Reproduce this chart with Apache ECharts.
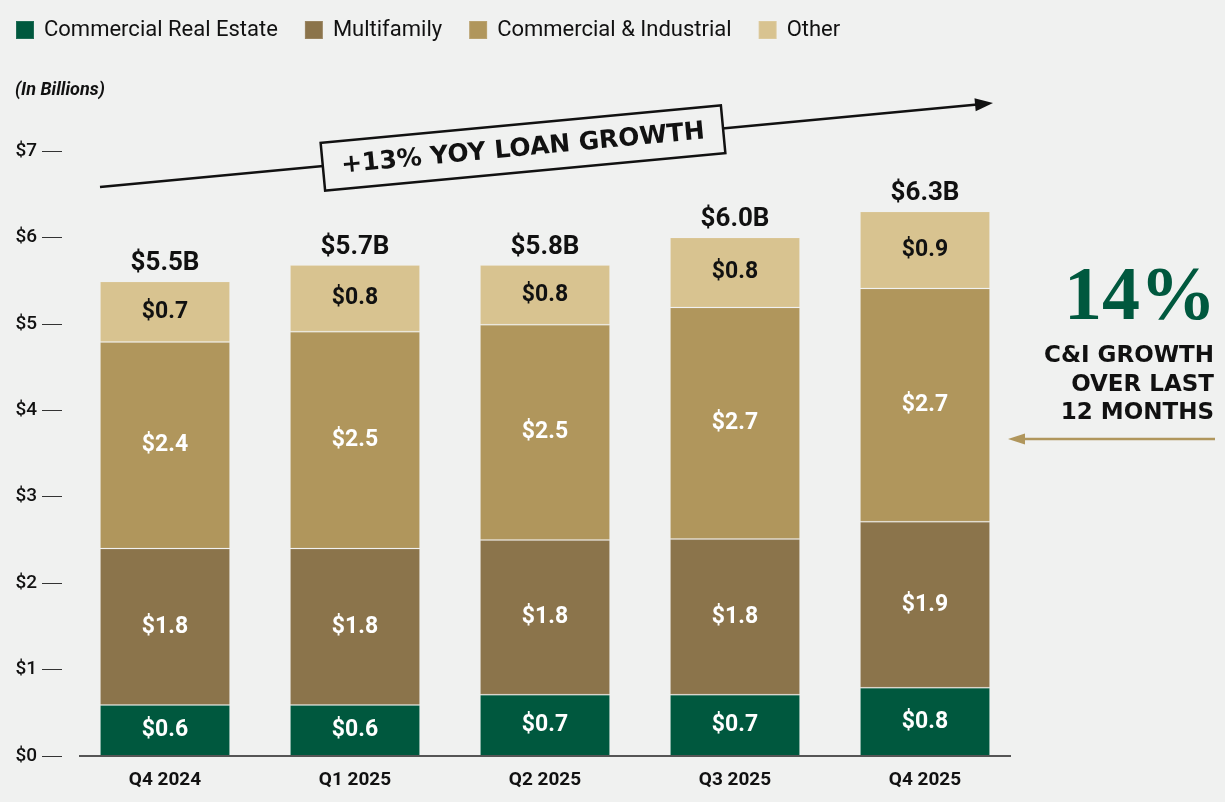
<!DOCTYPE html>
<html>
<head>
<meta charset="UTF-8">
<script src="https://cdn.jsdelivr.net/npm/echarts@6/dist/echarts.min.js"></script>
<style>
  html, body { margin: 0; padding: 0; background: #f0f1f0; }
  #main { width: 1225px; height: 802px; }
</style>
</head>
<body>
<div id="main"></div>
<script>
// quarters
var quarters = ['Q4 2024', 'Q1 2025', 'Q2 2025', 'Q3 2025', 'Q4 2025'];
// segment heights (billions)
var creVals   = [0.59, 0.59, 0.71, 0.71, 0.79];
var multiVals = [1.81, 1.81, 1.79, 1.80, 1.92];
var ciVals    = [2.39, 2.51, 2.49, 2.68, 2.70];
var otherVals = [0.70, 0.77, 0.69, 0.81, 0.89];
// printed labels
var creLabels   = ['$0.6', '$0.6', '$0.7', '$0.7', '$0.8'];
var multiLabels = ['$1.8', '$1.8', '$1.8', '$1.8', '$1.9'];
var ciLabels    = ['$2.4', '$2.5', '$2.5', '$2.7', '$2.7'];
var otherLabels = ['$0.7', '$0.8', '$0.8', '$0.8', '$0.9'];
var totalLabels = ['$5.5B', '$5.7B', '$5.8B', '$6.0B', '$6.3B'];
var yTicks = ['$0', '$1', '$2', '$3', '$4', '$5', '$6', '$7'];

var bg = '#f0f1f0';
var font = 'Roboto';

var myChart = echarts.init(document.getElementById('main'));

function segLabel(labels, color) {
    return {
        show: true,
        position: 'inside',
        color: color,
        fontFamily: font,
        fontWeight: 'bold',
        fontSize: 23,
        formatter: function (p) { return labels[p.dataIndex]; }
    };
}

function barSeries(name, vals, color, labels, txtColor) {
    return {
        name: name,
        type: 'bar',
        stack: 'loans',
        barWidth: 130,
        data: vals,
        itemStyle: { color: color, borderColor: 'rgba(255,255,255,0.12)', borderWidth: 1 },
        label: segLabel(labels, txtColor),
        emphasis: { disabled: true }
    };
}

// stack top for each quarter, used to anchor the total labels
var totals = quarters.map(function (q, i) {
    return creVals[i] + multiVals[i] + ciVals[i] + otherVals[i];
});

// arrow head helper
function head(tip, dx, dy, len, half) {
    var d = Math.sqrt(dx * dx + dy * dy);
    var ux = dx / d, uy = dy / d;
    var bx = tip[0] - ux * len, by = tip[1] - uy * len;
    return [tip, [bx - uy * half, by + ux * half], [bx + uy * half, by - ux * half]];
}

var boxAngle = Math.atan2(187 - 103, 993 - 100);

myChart.setOption({
    backgroundColor: bg,
    animation: false,
    textStyle: { fontFamily: font },
    legend: {
        left: 10,
        top: 14,
        itemWidth: 18,
        itemHeight: 18,
        itemGap: 26,
        icon: 'rect',
        selectedMode: false,
        textStyle: { fontSize: 22, color: '#111', fontFamily: font, padding: [0, 0, 0, 5] },
        data: ['Commercial Real Estate', 'Multifamily', 'Commercial & Industrial', 'Other']
    },
    grid: { left: 70, right: 205, top: 151, bottom: 46 },
    xAxis: {
        type: 'category',
        data: quarters,
        axisLine: { show: false },
        axisTick: { show: false },
        axisLabel: { color: '#111', fontSize: 19, fontWeight: 'bold', margin: 15, fontFamily: font }
    },
    yAxis: {
        type: 'value',
        min: 0,
        max: 7,
        interval: 1,
        offset: 8,
        splitLine: { show: false },
        axisLine: { show: false },
        axisTick: { show: true, length: 20, lineStyle: { color: '#333', width: 1 } },
        axisLabel: {
            color: '#111', fontSize: 19, fontWeight: 500, margin: 25, fontFamily: font,
            formatter: function (v) { return yTicks[v]; }
        }
    },
    series: [
        barSeries('Commercial Real Estate', creVals, '#00583e', creLabels, '#fff'),
        barSeries('Multifamily', multiVals, '#8b744b', multiLabels, '#fff'),
        barSeries('Commercial & Industrial', ciVals, '#b0965c', ciLabels, '#fff'),
        barSeries('Other', otherVals, '#d8c390', otherLabels, '#111'),
        {
            name: 'Total',
            type: 'scatter',
            symbolSize: 0,
            data: totals,
            silent: true,
            itemStyle: { color: '#111', opacity: 1 },
            label: {
                show: true,
                position: 'top',
                distance: 5,
                color: '#111',
                fontFamily: font,
                fontWeight: 'bold',
                fontSize: 26,
                formatter: function (p) { return totalLabels[p.dataIndex]; }
            }
        }
    ],
    graphic: [
        // x axis baseline
        { type: 'line', shape: { x1: 79, y1: 756, x2: 1011, y2: 756 }, style: { stroke: '#555', lineWidth: 2 }, z: 10 },
        // units note
        { type: 'text', left: 15, top: 81, style: { text: '(In Billions)', font: 'italic bold 18px Roboto', fill: '#111' } },
        // growth arrow
        { type: 'line', shape: { x1: 100, y1: 187, x2: 980, y2: 104.2 }, style: { stroke: '#111', lineWidth: 2.5 } },
        { type: 'polygon', shape: { points: head([993, 103], 893, -84, 18, 6.5) }, style: { fill: '#111' } },
        {
            type: 'group',
            x: 523, y: 148,
            rotation: boxAngle,
            children: [
                { type: 'rect', shape: { x: -201, y: -24, width: 402, height: 48 }, style: { fill: bg, stroke: '#111', lineWidth: 2.5 } },
                { type: 'text', x: 0, y: 1, style: { text: '+13% YOY LOAN GROWTH', font: 'bold 25px "DejaVu Sans"', fill: '#111', textAlign: 'center', textVerticalAlign: 'middle' } }
            ]
        },
        // C&I callout
        { type: 'text', x: 1216, y: 299, style: { text: '14%', font: 'bold 76px "Liberation Serif"', fill: '#00583e', textAlign: 'right', textVerticalAlign: 'middle' } },
        { type: 'text', x: 1214, y: 356, style: { text: 'C&I GROWTH', font: 'bold 23px "DejaVu Sans"', fill: '#111', textAlign: 'right', textVerticalAlign: 'middle' } },
        { type: 'text', x: 1214, y: 385, style: { text: 'OVER LAST', font: 'bold 23px "DejaVu Sans"', fill: '#111', textAlign: 'right', textVerticalAlign: 'middle' } },
        { type: 'text', x: 1214, y: 413, style: { text: '12 MONTHS', font: 'bold 23px "DejaVu Sans"', fill: '#111', textAlign: 'right', textVerticalAlign: 'middle' } },
        { type: 'line', shape: { x1: 1215, y1: 439, x2: 1022, y2: 439 }, style: { stroke: '#b0965c', lineWidth: 2.5 } },
        { type: 'polygon', shape: { points: head([1008, 439], -1, 0, 17, 5.5) }, style: { fill: '#b0965c' } }
    ]
});
</script>
</body>
</html>
